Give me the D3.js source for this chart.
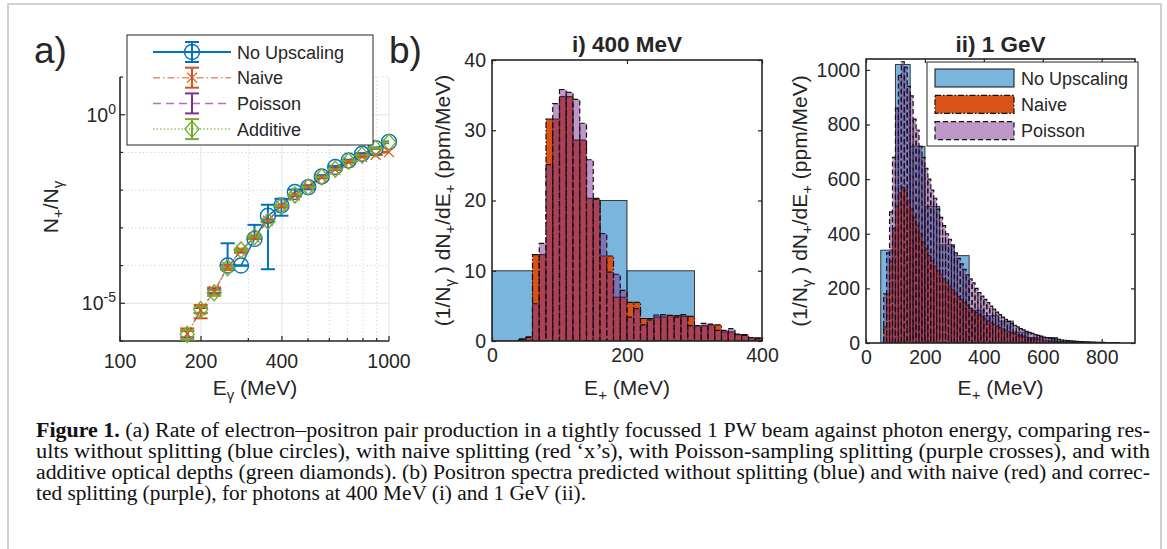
<!DOCTYPE html>
<html>
<head>
<meta charset="utf-8">
<script src="https://cdn.jsdelivr.net/npm/d3@7"></script>
<style>
body{margin:0;background:#fff;}
svg{display:block;}
text{font-family:"Liberation Sans",Arial,sans-serif;fill:#262626;}
.cap{font-family:"Liberation Serif","Times New Roman",serif;fill:#111;}
</style>
</head>
<body>
<svg id="fig" width="1167" height="549"></svg>
<script>
//////////////// data
// a) pair rate vs photon energy
var energies=[177.8,199.5,223.9,251.2,281.8,316.2,354.8,398.1,446.7,501.2,562.3,631.0,707.9,794.3,891.3,1000];
var rateNone=[null,null,null,1.0e-4,1.0e-4,5.1e-4,2.1e-3,3.9e-3,8.9e-3,1.2e-2,2.3e-2,4.1e-2,6.1e-2,9.2e-2,0.13,0.19];
var errNoneLo=[0,0,0,0,0,0,2.02e-3,1.8e-3,1.5e-3,1.5e-3,2e-3,2.5e-3,3e-3,4e-3,5e-3,6e-3];
var errNoneHi=[0,0,0,2.9e-4,0,6.9e-4,2.0e-3,2.0e-3,1.5e-3,1.5e-3,2e-3,2.5e-3,3e-3,4e-3,5e-3,6e-3];
var rateNaive=[1.55e-6,6.5e-6,2.1e-5,9.1e-5,2.5e-4,5.6e-4,1.55e-3,3.8e-3,7.2e-3,1.26e-2,2.15e-2,3.5e-2,5.5e-2,7.6e-2,8.7e-2,0.102];
var errNaive=[0.6e-6,2.5e-6,5e-6,1.5e-5,3e-5,5e-5,1e-4,2e-4,3e-4,4e-4,6e-4,8e-4,1e-3,1.2e-3,1.4e-3,1.6e-3];
var ratePoisson=[1.55e-6,6.5e-6,2.1e-5,9.1e-5,2.5e-4,5.6e-4,1.55e-3,3.8e-3,7.2e-3,1.26e-2,2.2e-2,3.7e-2,5.8e-2,8.7e-2,0.126,0.18];
var errPoisson=[0.3e-6,1e-6,2.5e-6,7e-6,1.5e-5,2.5e-5,5e-5,8e-5,1.2e-4,1.6e-4,2.2e-4,3e-4,4e-4,5e-4,6e-4,7e-4];
var rateAdditive=[1.5e-6,6.8e-6,1.9e-5,8.8e-5,2.6e-4,5.8e-4,1.5e-3,3.9e-3,7.4e-3,1.22e-2,2.25e-2,3.6e-2,5.9e-2,8.5e-2,0.128,0.185];
var errAdditive=[0.4e-6,1.2e-6,3e-6,8e-6,1.6e-5,2.8e-5,5.5e-5,9e-5,1.3e-4,1.8e-4,2.5e-4,3.3e-4,4.4e-4,5.5e-4,6.5e-4,7.5e-4];
var xTicksA=[100,200,400,1000];
var xMinorA=[300,500,600,700,800,900];
var yTicksA=[1e-5,1];
var yMinorA=[1e-6,1e-4,1e-3,1e-2,1e-1,10];

// b-i) 400 MeV spectra (ppm/MeV)
var blueEdges400=[0,60,160,200,300];
var blue400=[10,10,20,10];
var binStart400=40, binWidth400=10;
var naive400=[0.3,0.6,12.3,12.3,31.6,31.6,34.8,34.8,28.6,28.6,20.3,20.3,12.1,12.1,6.2,6.2,5.5,5.5,3.2,3.2,3.4,3.4,3.6,3.6,3.5,3.5,2.2,2.2,2.3,2.3,1.3,1.3,0.9,0.9,0.45,0.45];
var poisson400=[0.2,0.5,5.3,13.9,25.1,33.8,35.8,35.4,34.4,31.0,25.8,20.2,15.3,9.8,9.5,7.2,3.4,4.6,2.3,3.0,3.7,3.75,3.65,3.4,3.75,2.2,2.2,2.5,2.4,1.5,1.5,1.75,1.0,0.8,0.5,0.35];

// b-ii) 1 GeV spectra (ppm/MeV)
var blueEdges1G=[0,50,100,150,200,250,300,350,400,450,500,550,600,650,700];
var blue1G=[0,340,1020,720,500,360,320,120,100,80,40,20,20,0];
var binStart1G=60, binWidth1G=10;
var naive1G=[60,180,300,420,500,550,570,560,520,490,460,430,400,370,345,320,300,282,265,250,235,220,207,195,182,170,158,148,138,128,120,112,104,96,88,81,74,68,62,56,51,46,42,38,34,30,27,24,21,19,17,15,13,11,10,9,8,7,6,5.5,5,4.5,4,3.5,3,2.7,2.4,2.1,1.8,1.6,1.4,1.2,1,0.9,0.8,0.7,0.6,0.5,0.4,0.3];
var poisson1G=[180,330,480,680,860,980,1030,1010,940,905,820,780,720,680,640,600,560,530,490,460,430,400,380,355,330,310,290,270,250,235,220,200,185,172,160,148,135,124,113,104,95,87,79,72,65,59,53,48,43,39,35,31,28,25,22,20,18,16,14,13,11,10,9,8,7,6,5.5,5,4.5,4,3.5,3,2.7,2.4,2.1,1.9,1.7,1.5,1.3,1.1];

var seriesNames=["No Upscaling","Naive","Poisson","Additive"];
var histNames=["No Upscaling","Naive","Poisson"];
var caption=[
 ["Figure 1.", " (a) Rate of electron\u2013positron pair production in a tightly focussed 1 PW beam against photon energy, comparing res-"],
 ["", "ults without splitting (blue circles), with naive splitting (red \u2018x\u2019s), with Poisson-sampling splitting (purple crosses), and with"],
 ["", "additive optical depths (green diamonds). (b) Positron spectra predicted without splitting (blue) and with naive (red) and correc-"],
 ["", "ted splitting (purple), for photons at 400 MeV (i) and 1 GeV (ii)."]
];
var captionWidths=[1114,1114,1114,550];

//////////////// styles
var C={blue:"#0072BD",orange:"#D95319",purple:"#7E2F8E",green:"#77AC30",axis:"#262626"};
var W=1167,H=549,FS=18,TS=19.5,LS=21;   // legend, tick, label font sizes

var svg=d3.select("#fig");
svg.append("rect").attr("width",W).attr("height",H).attr("fill","#fff");
var defs=svg.append("defs");

// page frame
svg.append("path").attr("d","M8,"+H+"V4H1161V"+H)
  .attr("fill","none").attr("stroke","#c4c4c4").attr("stroke-width",1.6);

// text with sub/sup pieces: parts = [[txt, 'sub'|'sup'|null, size]]
function richText(sel,parts){
  var shift=0;
  parts.forEach(function(p){
    var t=sel.append("tspan").text(p[0]);
    var target=p[1]==="sub"?5:(p[1]==="sup"?-8:0);
    if(target!==shift){t.attr("dy",target-shift);shift=target;}
    if(p[1]) t.attr("font-size",p[2]||14);
  });
  return sel;
}

function clip(id,x,y,w,h){
  defs.append("clipPath").attr("id",id).append("rect").attr("x",x).attr("y",y).attr("width",w).attr("height",h);
}

//////////////// panel a
var pa={l:120,r:389,t:77,b:341};
var xA=d3.scaleLog().domain([100,1000]).range([pa.l,pa.r]);
var yA=d3.scaleLog().domain([1e-6,10]).range([pa.b,pa.t]);
var gA=svg.append("g");

// grid
gA.selectAll(".gxm").data(xMinorA).enter().append("line")
  .attr("x1",function(d){return xA(d);}).attr("x2",function(d){return xA(d);})
  .attr("y1",pa.t).attr("y2",pa.b).attr("stroke","#cfcfcf").attr("stroke-dasharray","1.2,2.6");
gA.selectAll(".gym").data(yMinorA).enter().append("line")
  .attr("y1",function(d){return yA(d);}).attr("y2",function(d){return yA(d);})
  .attr("x1",pa.l).attr("x2",pa.r).attr("stroke","#cfcfcf").attr("stroke-dasharray","1.2,2.6");
gA.selectAll(".gx").data(xTicksA).enter().append("line")
  .attr("x1",function(d){return xA(d);}).attr("x2",function(d){return xA(d);})
  .attr("y1",pa.t).attr("y2",pa.b).attr("stroke","#e2e2e2").attr("stroke-width",1);
gA.selectAll(".gy").data(yTicksA).enter().append("line")
  .attr("y1",function(d){return yA(d);}).attr("y2",function(d){return yA(d);})
  .attr("x1",pa.l).attr("x2",pa.r).attr("stroke","#e2e2e2").attr("stroke-width",1);

// axes lines + inner ticks
gA.append("path").attr("d","M"+pa.l+","+pa.t+"V"+pa.b+"H"+pa.r).attr("fill","none").attr("stroke",C.axis).attr("stroke-width",1.6);
xTicksA.concat(xMinorA).forEach(function(d,i){
  var len=i<xTicksA.length?5:3;
  gA.append("line").attr("x1",xA(d)).attr("x2",xA(d)).attr("y1",pa.b).attr("y2",pa.b-len).attr("stroke",C.axis).attr("stroke-width",1.2);
});
yTicksA.concat(yMinorA).forEach(function(d,i){
  var len=i<yTicksA.length?5:3;
  gA.append("line").attr("y1",yA(d)).attr("y2",yA(d)).attr("x1",pa.l).attr("x2",pa.l+len).attr("stroke",C.axis).attr("stroke-width",1.2);
});
gA.selectAll(".xl").data(xTicksA).enter().append("text")
  .attr("x",function(d){return xA(d);}).attr("y",368).attr("text-anchor","middle").attr("font-size",TS).text(function(d){return d;});
yTicksA.forEach(function(d){
  var t=gA.append("text").attr("x",pa.l-4).attr("y",yA(d)+7).attr("text-anchor","end").attr("font-size",TS);
  richText(t,[["10",null],[String(Math.round(Math.log10(d))),"sup",14]]);
});

// series
clip("clipA",pa.l,pa.t,pa.r-pa.l,pa.b-pa.t);
var plotA=gA.append("g").attr("clip-path","url(#clipA)");
var marksA=gA.append("g");
var seriesA=[
  {v:rateNone,lo:errNoneLo,hi:errNoneHi,c:C.blue,dash:null,w:1.5,op:1,m:"o"},
  {v:rateNaive,lo:errNaive,hi:errNaive,c:C.orange,dash:"7,3,1.5,3",w:1.2,op:0.65,m:"x"},
  {v:ratePoisson,lo:errPoisson,hi:errPoisson,c:C.purple,dash:"8,5",w:1.2,op:0.65,m:null},
  {v:rateAdditive,lo:errAdditive,hi:errAdditive,c:C.green,dash:"1.2,2.4",w:1.2,op:0.9,m:"d"}
];
var lineA=d3.line().defined(function(d){return d[1]!=null;})
  .x(function(d){return xA(d[0]);}).y(function(d){return yA(d[1]);});

function drawMarker(g,type,x,y,col){
  if(type==="o"){
    g.append("circle").attr("cx",x).attr("cy",y).attr("r",7.5).attr("fill","none").attr("stroke",col).attr("stroke-width",1.4);
  } else if(type==="x"){
    g.append("path").attr("d","M"+(x-5)+","+(y-5)+"L"+(x+5)+","+(y+5)+"M"+(x-5)+","+(y+5)+"L"+(x+5)+","+(y-5))
      .attr("stroke",col).attr("stroke-width",1.2);
  } else if(type==="d"){
    g.append("path").attr("d","M"+x+","+(y-8)+"L"+(x+7)+","+y+"L"+x+","+(y+8)+"L"+(x-7)+","+y+"Z")
      .attr("fill","none").attr("stroke",col).attr("stroke-width",1.4);
  }
}
function drawErr(g,x,y1,y2,col,cap){
  g.append("line").attr("x1",x).attr("x2",x).attr("y1",y1).attr("y2",y2).attr("stroke",col).attr("stroke-width",2);
  [y1,y2].forEach(function(yy){
    g.append("line").attr("x1",x-cap).attr("x2",x+cap).attr("y1",yy).attr("y2",yy).attr("stroke",col).attr("stroke-width",2);
  });
}

seriesA.forEach(function(s){
  var pts=energies.map(function(e,i){return [e,s.v[i]];});
  plotA.append("path").datum(pts).attr("d",lineA).attr("fill","none")
    .attr("stroke",s.c).attr("stroke-width",s.w).attr("stroke-opacity",s.op).attr("stroke-dasharray",s.dash);
  var g=plotA.append("g");
  energies.forEach(function(e,i){
    if(s.v[i]==null) return;
    var top=s.v[i]+s.hi[i], bot=s.v[i]-s.lo[i];
    var yb=bot>0?yA(bot):pa.b+10;
    drawErr(g,xA(e),yA(top),yb,s.c,7);
    drawMarker(marksA,s.m,xA(e),yA(s.v[i]),s.c);
  });
});

// legend a
var lgA=gA.append("g");
lgA.append("rect").attr("x",127).attr("y",35).attr("width",246).attr("height",110)
  .attr("fill","#fff").attr("stroke",C.axis).attr("stroke-width",1);
seriesA.forEach(function(s,i){
  var y=52+i*25.7;
  lgA.append("line").attr("x1",153).attr("x2",231).attr("y1",y).attr("y2",y)
    .attr("stroke",s.c).attr("stroke-width",s.w+0.3).attr("stroke-opacity",s.op).attr("stroke-dasharray",s.dash);
  drawErr(lgA,192,y-10,y+10,s.c,7);
  drawMarker(lgA,s.m,192,y,s.c);
  lgA.append("text").attr("x",237).attr("y",y+6.5).attr("font-size",FS).text(seriesNames[i]);
});

// labels a
richText(svg.append("text").attr("transform","translate(58,207) rotate(-90)").attr("text-anchor","middle").attr("font-size",LS),
  [["N",null],["+","sub",15],["/N",null],["\u03b3","sub",15]]);
richText(svg.append("text").attr("x",255).attr("y",395).attr("text-anchor","middle").attr("font-size",LS),
  [["E",null],["\u03b3","sub",15],[" (MeV)",null]]);
svg.append("text").attr("x",34).attr("y",63).attr("font-size",37).text("a)");
svg.append("text").attr("x",389).attr("y",63).attr("font-size",37).text("b)");

//////////////// histogram panels
function histPanel(o){
  var x=d3.scaleLinear().domain(o.xd).range([o.l,o.r]);
  var y=d3.scaleLinear().domain(o.yd).range([o.b,o.t]);
  var g=svg.append("g");
  clip(o.id,o.l,o.t,o.r-o.l,o.b-o.t);
  var plot=g.append("g").attr("clip-path","url(#"+o.id+")");

  function bars(edges,vals,fill,alpha,dash){
    var rows=vals.map(function(v,i){return {x0:edges[i],x1:edges[i+1],v:v};}).filter(function(d){return d.v>0;});
    plot.append("g").selectAll("rect").data(rows).enter().append("rect")
      .attr("x",function(d){return x(d.x0);}).attr("width",function(d){return x(d.x1)-x(d.x0);})
      .attr("y",function(d){return y(d.v);}).attr("height",function(d){return y(0)-y(d.v);})
      .attr("fill",fill).attr("fill-opacity",alpha)
      .attr("stroke","#111").attr("stroke-width",dash?1.2:1).attr("stroke-opacity",dash?1:0.8)
      .attr("stroke-dasharray",dash);
  }
  function edgesFrom(start,width,n){return d3.range(n+1).map(function(k){return start+k*width;});}
  bars(o.blueEdges,o.blue,C.blue,0.52,null);
  bars(edgesFrom(o.start,o.width,o.naive.length),o.naive,C.orange,1,"6,2,1.5,2");
  bars(edgesFrom(o.start,o.width,o.poisson.length),o.poisson,C.purple,0.5,"5,3");

  // box and inner ticks
  g.append("rect").attr("x",o.l).attr("y",o.t).attr("width",o.r-o.l).attr("height",o.b-o.t)
    .attr("fill","none").attr("stroke",C.axis).attr("stroke-width",1.6);
  g.append("g").attr("transform","translate(0,"+o.b+")")
    .call(d3.axisBottom(x).tickValues(o.xt).tickSize(-4).tickSizeOuter(0).tickPadding(7).tickFormat(d3.format("d")))
    .call(styleAxis);
  g.append("g").attr("transform","translate(0,"+o.t+")")
    .call(d3.axisTop(x).tickValues(o.xt).tickSize(-4).tickSizeOuter(0).tickFormat(""))
    .call(styleAxis);
  g.append("g").attr("transform","translate("+o.l+",0)")
    .call(d3.axisLeft(y).tickValues(o.yt).tickSize(-4).tickSizeOuter(0).tickPadding(6).tickFormat(d3.format("d")))
    .call(styleAxis);
  g.append("g").attr("transform","translate("+o.r+",0)")
    .call(d3.axisRight(y).tickValues(o.yt).tickSize(-4).tickSizeOuter(0).tickFormat(""))
    .call(styleAxis);

  g.append("text").attr("x",(o.l+o.r)/2).attr("y",52).attr("text-anchor","middle")
    .attr("font-size",22.5).attr("font-weight","bold").text(o.title);
  richText(g.append("text").attr("x",(o.l+o.r)/2).attr("y",395).attr("text-anchor","middle").attr("font-size",LS),
    [["E",null],["+","sub",15],[" (MeV)",null]]);
  richText(g.append("text").attr("transform","translate("+o.yl+","+((o.t+o.b)/2)+") rotate(-90)").attr("text-anchor","middle").attr("font-size",21),
    [["(1/N",null],["\u03b3","sub",15],[" ) dN",null],["+","sub",15],["/dE",null],["+","sub",15],[" (ppm/MeV)",null]]);
  return g;
}
function styleAxis(a){
  a.select(".domain").remove();
  a.selectAll(".tick line").attr("stroke",C.axis).attr("stroke-width",1.2);
  a.selectAll(".tick text").attr("font-size",TS).attr("fill",C.axis)
    .attr("font-family","Liberation Sans,Arial,sans-serif");
}

histPanel({id:"clipI",l:492,r:762,t:60,b:341,xd:[0,400],yd:[0,40],xt:[0,200,400],yt:[0,10,20,30,40],
  blueEdges:blueEdges400,blue:blue400,start:binStart400,width:binWidth400,naive:naive400,poisson:poisson400,
  title:"i) 400 MeV",yl:450});
histPanel({id:"clipII",l:866,r:1135,t:59,b:343,xd:[0,913],yd:[0,1040],xt:[0,200,400,600,800],yt:[0,200,400,600,800,1000],
  blueEdges:blueEdges1G,blue:blue1G,start:binStart1G,width:binWidth1G,naive:naive1G,poisson:poisson1G,
  title:"ii) 1 GeV",yl:807});

// legend ii
var lgB=svg.append("g");
lgB.append("rect").attr("x",927).attr("y",62).attr("width",211).attr("height",84)
  .attr("fill","#fff").attr("stroke",C.axis).attr("stroke-width",1);
var lgStyles=[{c:C.blue,a:0.52,d:null},{c:C.orange,a:1,d:"6,2,1.5,2"},{c:C.purple,a:0.5,d:"5,3"}];
lgStyles.forEach(function(s,i){
  var y=69+i*26.3;
  lgB.append("rect").attr("x",935).attr("y",y).attr("width",79).attr("height",18)
    .attr("fill",s.c).attr("fill-opacity",s.a).attr("stroke","#111").attr("stroke-width",s.d?1.2:1).attr("stroke-dasharray",s.d);
  lgB.append("text").attr("x",1021).attr("y",y+15.5).attr("font-size",FS).text(histNames[i]);
});

//////////////// caption
caption.forEach(function(line,i){
  var t=svg.append("text").attr("class","cap").attr("x",36).attr("y",437+i*21).attr("font-size",20)
    .attr("textLength",captionWidths[i]).attr("lengthAdjust","spacingAndGlyphs");
  if(line[0]) t.append("tspan").attr("font-weight","bold").text(line[0]);
  t.append("tspan").text(line[1]);
});
</script>
</body>
</html>
